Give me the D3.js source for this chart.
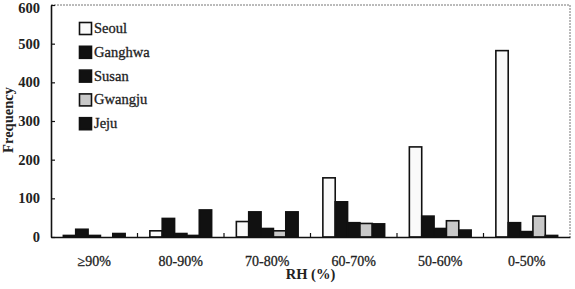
<!DOCTYPE html>
<html>
<head>
<meta charset="utf-8">
<script src="https://cdn.jsdelivr.net/npm/d3@7"></script>
<style>
  body { margin: 0; background: #fff; }
  svg { display: block; }
  text { font-family: "Liberation Serif", "DejaVu Serif", serif; }
</style>
</head>
<body>
<svg id="chart" width="575" height="289"></svg>
<script>
const categories = ["≥90%", "80-90%", "70-80%", "60-70%", "50-60%", "0-50%"];
const series = ["Seoul", "Ganghwa", "Susan", "Gwangju", "Jeju"];
const seoul = [4, 16, 40, 153, 233, 482];
const ganghwa = [20, 48, 65, 91, 54, 37];
const susan = [4, 9, 22, 37, 22, 14];
const gwangju = [0, 4, 16, 35, 42, 54];
const jeju = [9, 70, 65, 34, 18, 4];
const yTicks = [0, 100, 200, 300, 400, 500, 600];

const values = [seoul, ganghwa, susan, gwangju, jeju];
const fills = ["#fafafa", "#111", "#111", "#c8c8c8", "#111"];

const plotLeft = 51;
const plotRight = 570;
const plotTop = 5;
const plotBottom = 237;
const serif = "Liberation Serif";

const chart = d3.select("#chart");

// flatten for drawing
const dataset = [];
categories.forEach((c, i) => {
  series.forEach((s, j) => {
    dataset.push({ cat: c, series: s, value: values[j][i], fill: fills[j] });
  });
});

const x0 = d3.scaleBand().domain(categories).range([plotLeft, plotRight]).padding(0);
const x1 = d3
  .scaleBand()
  .domain(series)
  .range([0, x0.bandwidth()])
  .paddingInner(0)
  .paddingOuter(1);
const y = d3.scaleLinear().domain([0, 600]).range([plotBottom, plotTop]);

// frame (top and right are faint in the scan)
chart
  .append("path")
  .attr("d", `M${plotLeft},${plotTop}H${plotRight}V${plotBottom}`)
  .attr("fill", "none")
  .attr("stroke", "#777")
  .attr("stroke-width", 1)
  .attr("stroke-dasharray", "2,1");

chart
  .selectAll("rect.bar")
  .data(dataset)
  .enter()
  .append("rect")
  .attr("class", "bar")
  .attr("x", (d) => x0(d.cat) + x1(d.series))
  .attr("y", (d) => y(d.value))
  .attr("width", x1.bandwidth())
  .attr("height", (d) => plotBottom - y(d.value))
  .attr("fill", (d) => d.fill)
  .attr("stroke", "#111")
  .attr("stroke-width", 1.6);

// y axis
const yAxis = chart
  .append("g")
  .attr("transform", `translate(${plotLeft},0)`)
  .call(d3.axisLeft(y).tickValues(yTicks).tickSizeInner(-4).tickSizeOuter(0).tickPadding(11));
yAxis.attr("font-family", serif);
yAxis.select(".domain").attr("stroke", "#111").attr("stroke-width", 1.6);
yAxis.selectAll(".tick line").attr("stroke", "#111").attr("stroke-width", 1.2);
yAxis
  .selectAll(".tick text")
  .attr("font-size", 14.5)
  .attr("font-weight", "bold")
  .attr("fill", "#222")
  .attr("dy", (d) => (d === 600 ? "0.5em" : "0.32em")); // keep the top label inside the window

// x axis
const xAxis = chart
  .append("g")
  .attr("transform", `translate(0,${plotBottom})`)
  .call(d3.axisBottom(x0).tickSize(0).tickPadding(19));
xAxis.attr("font-family", serif);
xAxis.select(".domain").attr("stroke", "#111").attr("stroke-width", 1.6);
xAxis
  .selectAll(".tick text")
  .attr("font-size", 14)
  .attr("fill", "#222")
  .attr("stroke", "#222")
  .attr("stroke-width", 0.3);

// boundary ticks between groups
chart
  .selectAll("line.sep")
  .data(categories.slice(1))
  .enter()
  .append("line")
  .attr("class", "sep")
  .attr("x1", (d) => x0(d))
  .attr("x2", (d) => x0(d))
  .attr("y1", plotBottom)
  .attr("y2", plotBottom - 4)
  .attr("stroke", "#111")
  .attr("stroke-width", 1.2);

// axis titles
chart
  .append("text")
  .attr("x", (plotLeft + plotRight) / 2)
  .attr("y", 279)
  .attr("text-anchor", "middle")
  .attr("font-family", serif)
  .attr("font-size", 14.5)
  .attr("font-weight", "bold")
  .attr("fill", "#222")
  .text("RH (%)");

chart
  .append("text")
  .attr("transform", "translate(12.5,120) rotate(-90)")
  .attr("text-anchor", "middle")
  .attr("font-family", serif)
  .attr("font-size", 14.5)
  .attr("font-weight", "bold")
  .attr("fill", "#222")
  .text("Frequency");

// legend
const legend = chart.append("g").attr("transform", "translate(79,28)");
const item = legend
  .selectAll("g")
  .data(series)
  .enter()
  .append("g")
  .attr("transform", (_, i) => `translate(0,${i * 23.8})`);
item
  .append("rect")
  .attr("x", 0.5)
  .attr("y", -5.5)
  .attr("width", 12)
  .attr("height", 12)
  .attr("fill", (_, i) => fills[i])
  .attr("stroke", "#111")
  .attr("stroke-width", 1.6);
item
  .append("text")
  .attr("x", 15)
  .attr("y", 5)
  .attr("font-family", serif)
  .attr("font-size", 14.5)
  .attr("fill", "#222")
  .attr("stroke", "#222")
  .attr("stroke-width", 0.3)
  .text((d) => d);
</script>
</body>
</html>
